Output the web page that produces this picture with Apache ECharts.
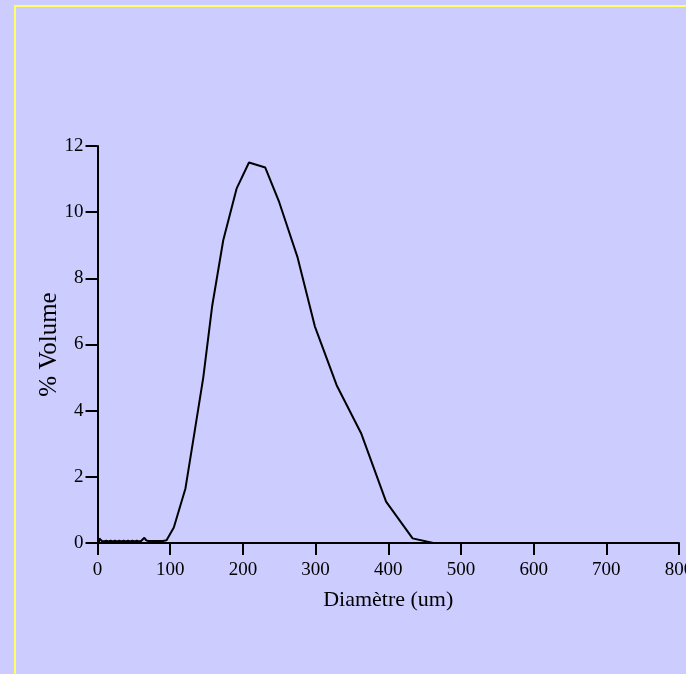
<!DOCTYPE html>
<html>
<head>
<meta charset="utf-8">
<script src="https://cdn.jsdelivr.net/npm/echarts@6/dist/echarts.min.js"></script>
<style>
  html, body { margin: 0; padding: 0; background: #ccccff; }
  #chart { width: 686px; height: 674px; }
</style>
</head>
<body>
<div id="chart"></div>
<script>
// Particle size distribution: diameter (um) vs % volume
const diameters = [2, 2.5, 5, 6, 9, 12, 15, 18, 21, 24, 27, 30, 33, 36, 39, 42, 45, 48, 51, 54, 57, 60,
  62, 64.5, 67, 70, 74, 78, 82, 86, 90, 95,
  105, 121, 132, 145.5, 157.6, 173, 191.5, 208.4, 230.8, 250, 275, 299, 329, 363, 397, 433.5, 462];
const volumes = [0.0, 0.14, 0.14, 0.06, 0.05, 0.07, 0.05, 0.07, 0.05, 0.07, 0.05, 0.07, 0.05, 0.07, 0.05, 0.07, 0.05, 0.07, 0.05, 0.07, 0.05, 0.06,
  0.08, 0.16, 0.08, 0.06, 0.06, 0.06, 0.06, 0.06, 0.06, 0.08,
  0.47, 1.65, 3.15, 5.0, 7.14, 9.15, 10.72, 11.5, 11.35, 10.3, 8.65, 6.55, 4.77, 3.3, 1.25, 0.14, 0.0];

const xTicks = { min: 0, max: 800, step: 100 };
const yTicks = { min: 0, max: 12, step: 2 };
const xTitle = 'Diamètre (um)';
const yTitle = '% Volume';

const points = diameters.map((d, i) => [d, volumes[i]]);
const serif = 'Liberation Serif';

const chart = echarts.init(document.getElementById('chart'), null, { renderer: 'canvas' });
chart.setOption({
  backgroundColor: '#ccccff',
  animation: false,
  graphic: [{
    type: 'rect',
    shape: { x: 15, y: 6, width: 800, height: 800 },
    style: { fill: 'none', stroke: '#ffff66', lineWidth: 2 },
    silent: true
  }],
  grid: { left: 97.5, right: 7, top: 146, bottom: 131, outerBoundsMode: 'none', containLabel: false },
  xAxis: {
    type: 'value',
    min: xTicks.min, max: xTicks.max, interval: xTicks.step,
    name: xTitle,
    nameLocation: 'middle',
    nameGap: 46,
    nameMoveOverlap: false,
    nameTextStyle: { fontFamily: serif, fontSize: 22, color: '#000' },
    axisLine: { show: true, lineStyle: { color: '#000', width: 2 } },
    axisTick: { show: true, length: 12, lineStyle: { color: '#000', width: 2 } },
    axisLabel: { show: true, margin: 18, fontFamily: serif, fontSize: 19, color: '#000', showMaxLabel: true, showMinLabel: true },
    splitLine: { show: false }
  },
  yAxis: {
    type: 'value',
    min: yTicks.min, max: yTicks.max, interval: yTicks.step,
    name: yTitle,
    nameLocation: 'middle',
    nameGap: 36,
    nameRotate: 90,
    nameMoveOverlap: false,
    nameTextStyle: { fontFamily: serif, fontSize: 25, color: '#000' },
    axisLine: { show: true, lineStyle: { color: '#000', width: 2 } },
    axisTick: { show: true, length: 12, lineStyle: { color: '#000', width: 2 } },
    axisLabel: { show: true, margin: 14, fontFamily: serif, fontSize: 19, color: '#000' },
    splitLine: { show: false }
  },
  series: [{
    type: 'line',
    data: points,
    showSymbol: false,
    symbol: 'none',
    lineStyle: { color: '#000', width: 2 },
    clip: false
  }]
});
</script>
</body>
</html>
